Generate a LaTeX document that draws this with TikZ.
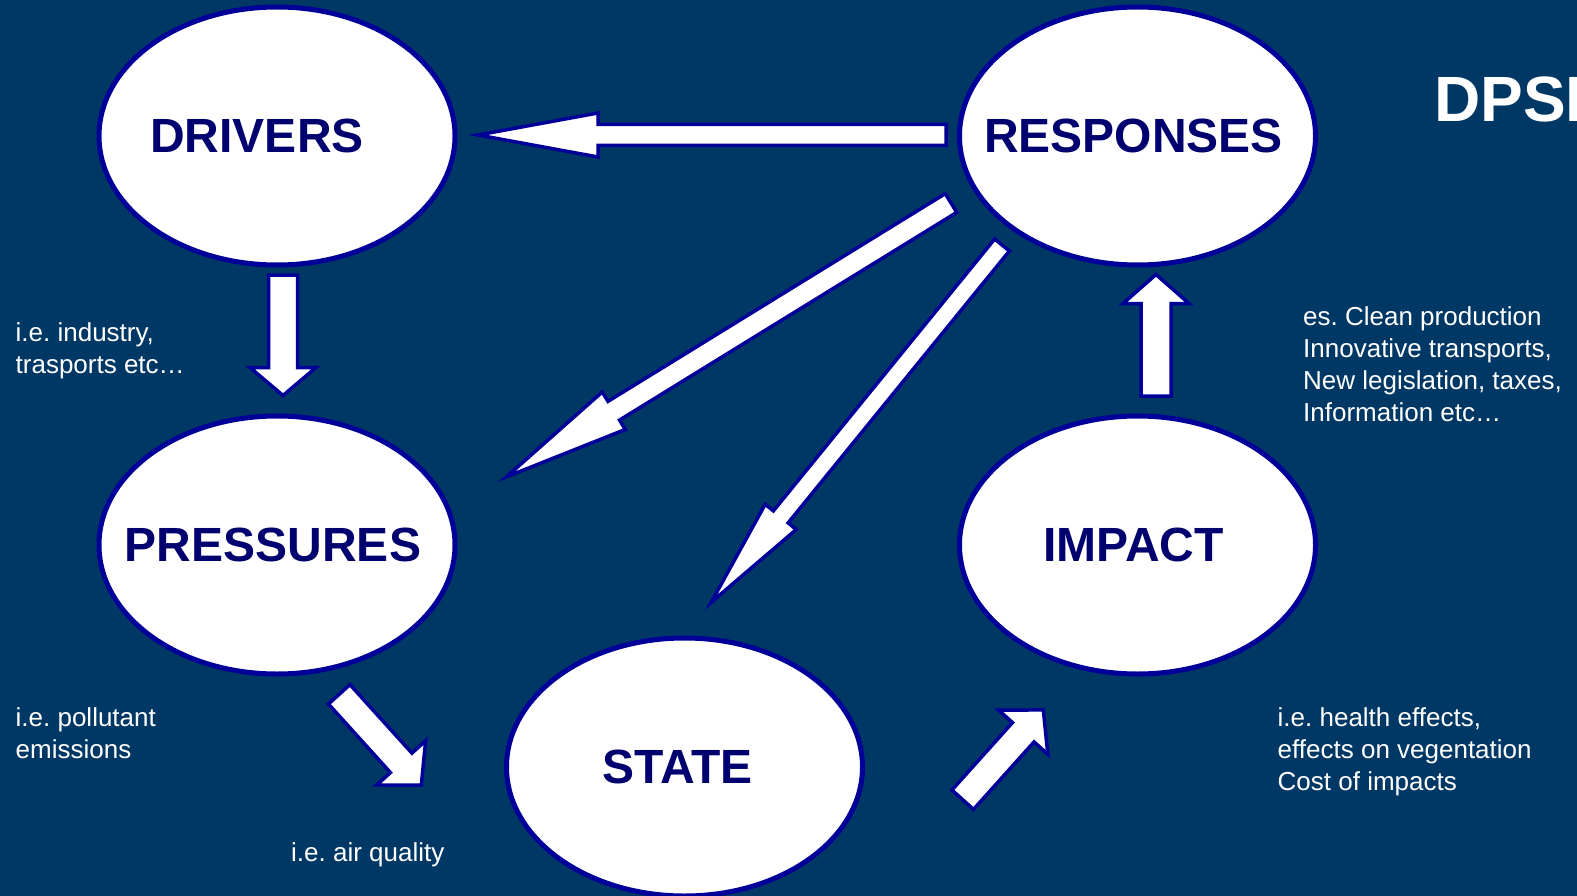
\documentclass[tikz,border=0pt]{standalone}
\usepackage{fontspec}
\setmainfont{Liberation Sans}
\usetikzlibrary{shapes.geometric,calc}
\definecolor{slide}{RGB}{0,56,101}
\definecolor{rim}{RGB}{0,0,153}
\definecolor{ink}{RGB}{0,0,110}
\frenchspacing
\tikzset{
  px/.style={x=1pt, y=-1pt},
  d circle/.style={ellipse, draw=rim, line width=5pt, fill=white, minimum width=356pt, minimum height=258pt, inner sep=0pt},
  d name/.style={font=\fontsize{48}{48}\selectfont\bfseries, text=ink, inner sep=0pt},
  d note/.style={anchor=base west, align=left, inner sep=0pt, text=white, font=\fontsize{26}{32}\selectfont},
  d title/.style={anchor=base west, inner sep=0pt, text=white, font=\fontsize{64}{64}\selectfont\bfseries},
  d block/.style={draw=rim, line width=3.5pt, fill=white, line join=miter},
}
% block arrow: #1 tail, #2 tip, #3 half shaft, #4 half head, #5 head length (in pt)
\newcommand{\blockarrow}[5]{%
  \coordinate (hb) at ($(#2)!#5pt!(#1)$);
  \draw[d block] ($(#1)!#3pt!90:(#2)$) -- ($(hb)!#3pt!-90:(#1)$) -- ($(hb)!#4pt!-90:(#1)$)
    -- (#2) -- ($(hb)!#4pt!90:(#1)$) -- ($(hb)!#3pt!90:(#1)$) -- ($(#1)!#3pt!-90:(#2)$) -- cycle;
}

\begin{document}
\begin{tikzpicture}[px]
\useasboundingbox (0,0) rectangle (1577,896);
\clip (0,0) rectangle (1577,896);
\fill[slide] (0,0) rectangle (1577,896);

\node[d circle] (drivers) at (277,136) {};
\node[d circle] (responses) at (1137.5,136) {};
\node[d circle] (pressures) at (277,545) {};
\node[d circle] (impact) at (1137.5,545) {};
\node[d circle] (state) at (684.5,767) {};
\node[d name] (drivers-t) at ([xshift=-20pt]drivers.center) {DRIVERS};
\node[d name] (responses-t) at ([xshift=-4pt]responses.center) {RESPONSES};
\node[d name] (pressures-t) at ([xshift=-4pt]pressures.center) {PRESSURES};
\node[d name] (impact-t) at ([xshift=-4pt]impact.center) {IMPACT};
\node[d name] (state-t) at ([xshift=-7pt]state.center) {STATE};

% notes sit on the baseline of their last line
\node[d title] (title) at (1434,122) {DPSI};
\node[d note] (n-drivers) at (15.5,373) {i.e. industry,\\trasports etc\dots};
\node[d note] (n-pressures) at (15.5,758) {i.e. pollutant\\emissions};
\node[d note] (n-state) at (291,861) {i.e. air quality};
\node[d note] (n-impact) at (1277.5,790) {i.e. health effects,\\effects on vegentation\\Cost of impacts};
\node[d note] (n-responses) at (1303,421) {es. Clean production\\Innovative transports,\\New legislation, taxes,\\Information etc\dots};

% tails and tips of the block arrows
\coordinate (rd0) at (946,135);   \coordinate (rd1) at (478,135);
\coordinate (rp0) at (951,203);   \coordinate (rp1) at (506.5,476.8);
\coordinate (rs0) at (1002,245);  \coordinate (rs1) at (711.3,602.2);
\coordinate (dp0) at (283,275);   \coordinate (dp1) at (283,395.5);
\coordinate (ir0) at (1156,396);  \coordinate (ir1) at (1156,274.5);
\coordinate (ps0) at (339.2,694.3); \coordinate (ps1) at (421.3,785.1);
\coordinate (si0) at (962.7,799.7); \coordinate (si1) at (1043.3,709.9);

\blockarrow{rd0}{rd1}{10.5}{22}{120}
\blockarrow{rp0}{rp1}{11}{22}{126}
\blockarrow{rs0}{rs1}{9.5}{20}{110}
\blockarrow{dp0}{dp1}{14.5}{33}{28}
\blockarrow{ir0}{ir1}{15}{33}{29}
\blockarrow{ps0}{ps1}{14.5}{33}{30}
\blockarrow{si0}{si1}{14.5}{33}{30}
\end{tikzpicture}
\end{document}
